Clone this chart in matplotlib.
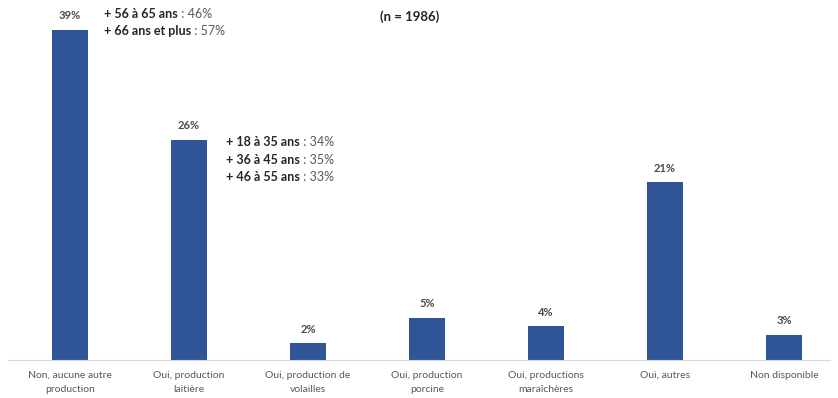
import matplotlib
matplotlib.use("Agg")
import matplotlib.pyplot as plt

# Autre production sur l'exploitation
categories = ["Non, aucune autre\nproduction", "Oui, production\nlaitière", "Oui, production de\nvolailles",
              "Oui, production\nporcine", "Oui, productions\nmaraîchères", "Oui, autres", "Non disponible"]
values = [39, 26, 2, 5, 4, 21, 3]

# sous-groupes d'âge
age_notes_1 = [("+ 56 à 65 ans", " : 46%"), ("+ 66 ans et plus", " : 57%")]
age_notes_2 = [("+ 18 à 35 ans", " : 34%"), ("+ 36 à 45 ans", " : 35%"), ("+ 46 à 55 ans", " : 33%")]

plt.rcParams["font.family"] = ["Lato", "DejaVu Sans"]

fig = plt.figure(figsize=(8.38, 3.98), dpi=100)
ax = fig.add_axes([8 / 838, 38 / 398, 822 / 838, 360 / 398])

x = range(len(categories))
bars = ax.bar(x, values, width=0.3, color="#2F5597", zorder=2)
ax.set_xlim(-0.521, 6.387)
ax.set_ylim(0, 42.5)

for b, v in zip(bars, values):
    ax.annotate(f"{v}%", (b.get_x() + b.get_width() / 2, v), xytext=(0, 6), textcoords="offset points",
                ha="center", va="bottom", fontsize=8, fontweight="bold", color="#4a4a4a")

for s in ["top", "right", "left"]:
    ax.spines[s].set_visible(False)
ax.spines["bottom"].set_color("#D9D9D9")
ax.set_yticks([])
ax.set_xticks(list(x))
ax.set_xticklabels(categories, fontsize=7.5, color="#595959", linespacing=1.75)
ax.tick_params(axis="x", length=0, pad=8)

fig.text(410 / 838, 1 - 17 / 398, "(n = 1986)", ha="center", va="center", fontsize=9.5, fontweight="bold",
         color="#262626")

fig.canvas.draw()
renderer = fig.canvas.get_renderer()


def notes(lines, x0, y0, dy):
    for i, (bold, rest) in enumerate(lines):
        y = 1 - (y0 + i * dy) / 398
        t = fig.text(x0 / 838, y, bold, ha="left", va="center", fontsize=9, fontweight="bold", color="#262626")
        ext = t.get_window_extent(renderer)
        fig.text(ext.x1 / 838, y, rest, ha="left", va="center", fontsize=9, color="#595959")


notes(age_notes_1, 104, 14, 17)
notes(age_notes_2, 226, 142, 17.5)

fig.savefig("out.png", dpi=100)
